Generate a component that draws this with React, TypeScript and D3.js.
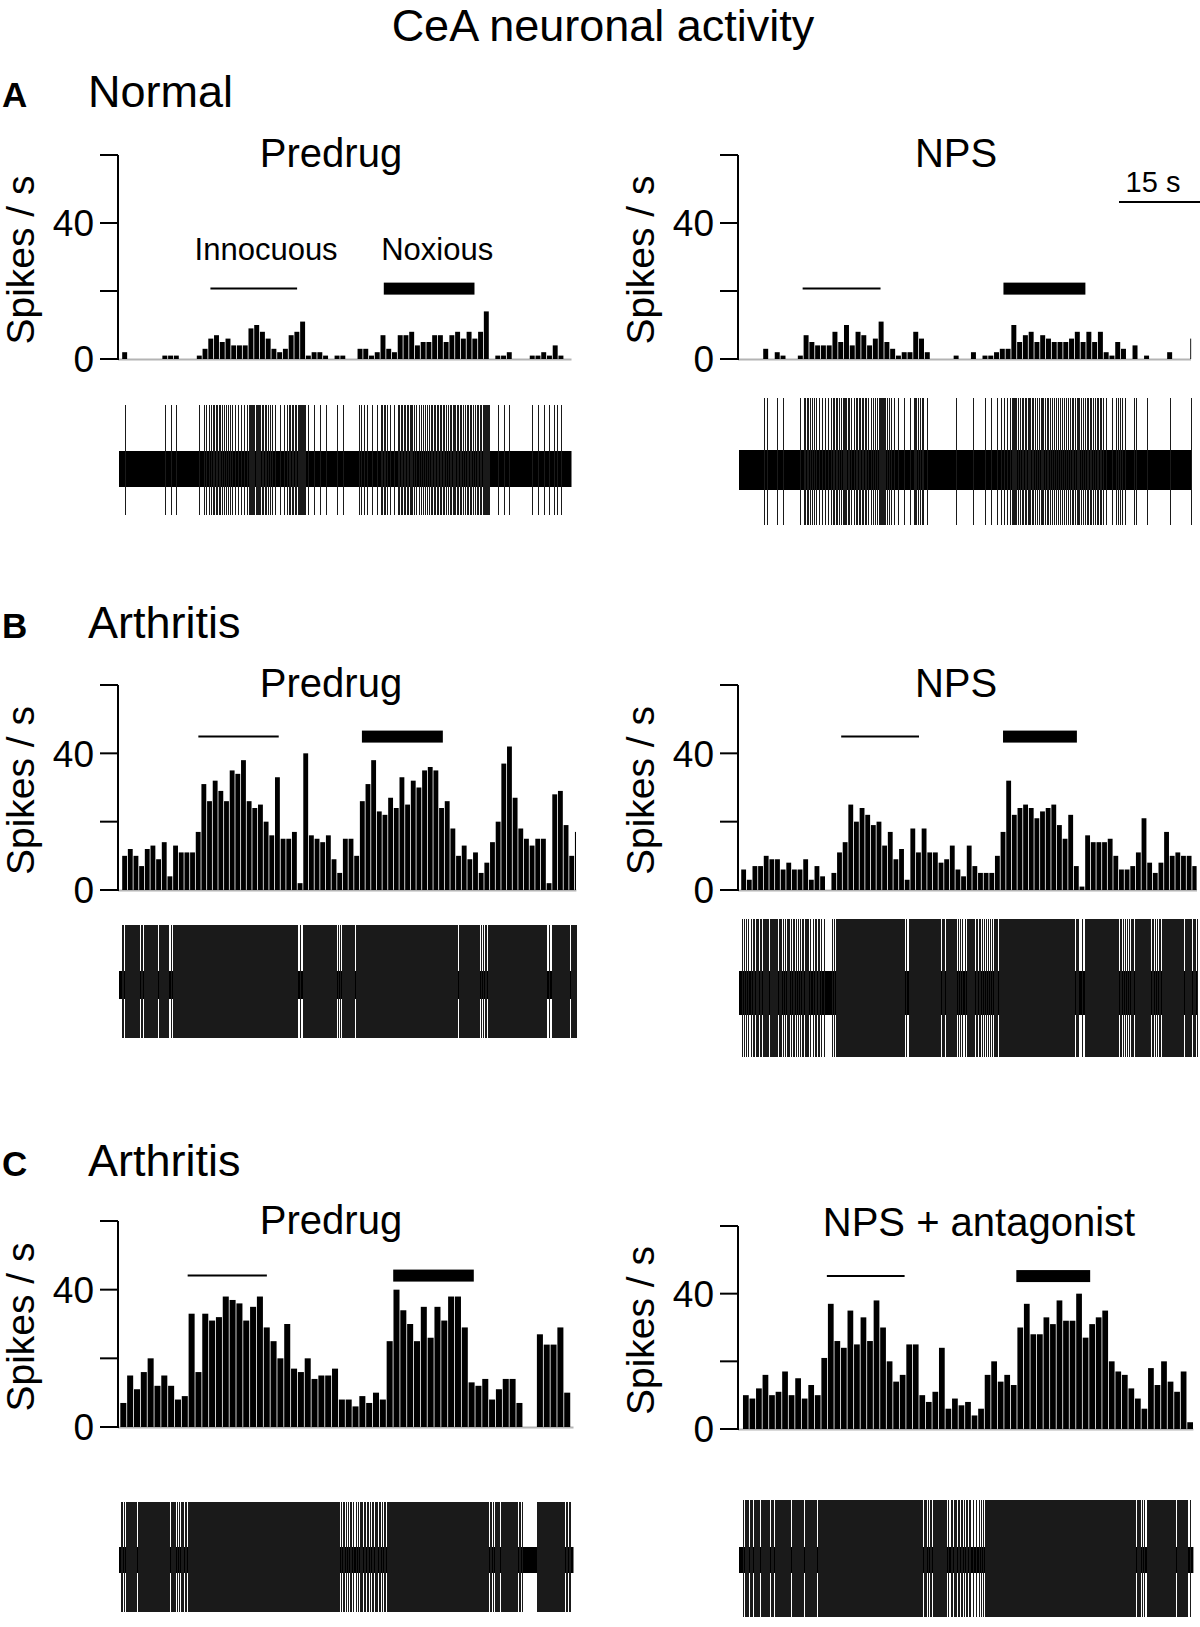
import React from 'react';
import * as d3 from 'd3';

const FONT = "'Liberation Sans', Arial, Helvetica, sans-serif";

// Spikes per bin (left to right)
const normalPredrug = [2,0,0,0,0,0,0,1,1,1, 0,0,0,1,3,6,7,5,6,4, 4,4,9,10,8,6,3,2,3,7, 8,11,1,2,2,1,0,1,1,0, 0,3,3,1,2,7,3,2,7,7, 8,4,5,5,7,7,5,7,8,6, 8,6,8,14,0,1,1,2,0,0, 0,1,1,2,1,4,1];
const normalNps = [3,0,2,1,0,0,1,7,5,4, 4,4,8,5,10,4,8,7,4,6, 11,5,3,1,2,2,8,6,2,0, 0,0,0,1,0,0,2,0,1,1, 2,3,3,10,5,7,8,5,7,6, 5,5,5,6,8,5,8,5,8,2, 1,5,3,0,4,0,1,0,0,0, 2,0,0,0,6];
const arthritisPredrugB = [10,12,10,7,12,13,9,14,4,13, 11,11,11,17,31,26,32,29,26,35, 34,38,26,24,25,20,16,33,15,15, 17,2,40,16,15,14,16,9,5,15, 15,10,26,31,38,23,22,27,24,33, 25,32,30,35,36,35,24,26,18,10, 13,9,11,5,8,14,20,37,42,27, 18,15,13,15,15,2,28,29,19,10, 17];
const arthritisNpsB = [6,3,7,7,10,9,9,6,8,6, 6,9,3,7,4,0,5,11,14,25, 20,24,22,19,20,13,17,9,12,3, 18,11,18,11,11,8,9,13,6,4, 13,7,5,5,5,10,17,32,22,24, 25,24,21,23,24,25,19,15,22,7, 1,16,14,14,14,15,10,6,6,7, 11,21,8,5,8,17,10,11,10,10, 7];
const arthritisPredrugC = [7,15,11,16,20,12,15,12,8,9, 33,16,33,31,32,38,37,36,31,35, 38,29,25,20,30,17,16,20,14,15, 15,17,8,8,6,9,7,10,8,25, 40,34,30,25,35,26,35,31,38,38, 29,13,12,14,8,11,14,14,7,0, 0,27,24,24,29,10];
const arthritisNpsAntagonist = [10,9,12,16,10,11,17,10,15,9, 13,10,21,37,26,24,35,25,33,26, 38,30,20,14,16,25,25,10,8,11, 24,6,9,7,8,4,6,16,20,14, 16,13,30,37,28,28,33,31,38,32, 32,40,27,31,33,35,20,17,16,12, 9,6,18,13,20,14,11,17,2];

// Stimulus windows (in bins from the axis): [start, end]
const innocNormalPredrug = [16.1, 31.2];
const noxNormalPredrug = [46.3, 62.1];
const innocNormalNps = [11.2, 24.7];
const noxNormalNps = [46.0, 60.2];
const innocArthPredrugB = [14.2, 28.4];
const noxArthPredrugB = [43.1, 57.4];
const innocArthNpsB = [18.3, 32.1];
const noxArthNpsB = [47.0, 60.1];
const innocArthPredrugC = [10.2, 21.8];
const noxArthPredrugC = [40.3, 52.1];
const innocArthNpsAnt = [13.6, 25.5];
const noxArthNpsAnt = [42.6, 53.9];

const yTicks = [0, 20, 40, 60];
const yTickLabels = [0, 40];
const yMax = 60;

const sections = [
  { letter: 'A', name: 'Normal', y: 107 },
  { letter: 'B', name: 'Arthritis', y: 638 },
  { letter: 'C', name: 'Arthritis', y: 1176 },
];

interface PanelLayout {
  rates: number[];
  title: string;
  titleX: number;
  titleY: number;
  titleSize: number;
  x0: number; x1: number; y0: number; yTop: number;
  off: number; span: number;
  innoc: number[]; nox: number[]; stimLevel: number;
  cy: number; band: number; up: number; down: number;
}

const panels: PanelLayout[] = [
  { rates: normalPredrug, title: 'Predrug', titleX: 331, titleY: 167, titleSize: 40,
    x0: 118, x1: 571.5, y0: 359, yTop: 155, off: 0.66, span: 79.0,
    innoc: innocNormalPredrug, nox: noxNormalPredrug, stimLevel: 20.7,
    cy: 469, band: 18, up: 64, down: 46 },
  { rates: normalNps, title: 'NPS', titleX: 956, titleY: 167, titleSize: 40,
    x0: 738, x1: 1191, y0: 359, yTop: 155, off: 4.3, span: 78.5,
    innoc: innocNormalNps, nox: noxNormalNps, stimLevel: 20.7,
    cy: 470, band: 20, up: 72, down: 55 },
  { rates: arthritisPredrugB, title: 'Predrug', titleX: 331, titleY: 697, titleSize: 40,
    x0: 118, x1: 576.4, y0: 890, yTop: 685, off: 0.67, span: 81.0,
    innoc: innocArthPredrugB, nox: noxArthPredrugB, stimLevel: 44.9,
    cy: 985, band: 14, up: 60, down: 53 },
  { rates: arthritisNpsB, title: 'NPS', titleX: 956, titleY: 697, titleSize: 40,
    x0: 738, x1: 1197, y0: 890, yTop: 685, off: 0.5, span: 81.4,
    innoc: innocArthNpsB, nox: noxArthNpsB, stimLevel: 44.9,
    cy: 993, band: 22, up: 74, down: 64 },
  { rates: arthritisPredrugC, title: 'Predrug', titleX: 331, titleY: 1234, titleSize: 40,
    x0: 118, x1: 573.5, y0: 1427, yTop: 1221, off: 0.28, span: 66.7,
    innoc: innocArthPredrugC, nox: noxArthPredrugC, stimLevel: 44.1,
    cy: 1560, band: 13, up: 58, down: 52 },
  { rates: arthritisNpsAntagonist, title: 'NPS + antagonist', titleX: 979, titleY: 1236, titleSize: 40,
    x0: 738, x1: 1193.4, y0: 1429, yTop: 1226, off: 0.7, span: 69.7,
    innoc: innocArthNpsAnt, nox: noxArthNpsAnt, stimLevel: 45.2,
    cy: 1560, band: 13, up: 60, down: 57 },
];

function Panel({ p, index }: { p: PanelLayout; index: number }) {
  const x = d3.scaleLinear().domain([0, p.span]).range([p.x0, p.x1]);
  const y = d3.scaleLinear().domain([0, yMax]).range([p.y0, p.yTop]);

  const bars = p.rates.map((v, k) => {
    if (v <= 0) return null;
    const a = Math.max(x(p.off + k), p.x0 + 1);
    const b = Math.min(x(p.off + k + 1), p.x1);
    if (b <= a) return null;
    const w = Math.max(0.9, b - a - 0.8);
    return <rect key={k} x={a + 0.4} y={y(v)} width={w} height={y(0) - y(v)} fill="#000" />;
  });

  // Raw trace: deflections spread through each bin, thinned (one line per two
  // counted spikes) so the display resolution shows gaps like the recording
  let spikes = '';
  p.rates.forEach((v, k) => {
    const n = Math.ceil(v / 2);
    for (let j = 0; j < n; j++) {
      const xx = x(p.off + k + (j + 0.5) / n);
      if (xx < p.x0 + 1 || xx > p.x1) continue;
      const px = Math.round(xx) + 0.5;
      spikes += `M${px},${p.cy - p.up}V${p.cy + p.down}`;
    }
  });

  const midY = (p.y0 + p.yTop) / 2 + 3;
  const stimY = y(p.stimLevel);

  return (
    <g>
      <text x={p.titleX} y={p.titleY} textAnchor="middle" fontSize={p.titleSize} fontFamily={FONT}>{p.title}</text>
      <text transform={`translate(${p.x0 - 84},${midY}) rotate(-90)`} textAnchor="middle" fontSize={39} fontFamily={FONT}>Spikes / s</text>
      {/* baseline */}
      <line x1={p.x0} x2={p.x1} y1={p.y0 + 0.5} y2={p.y0 + 0.5} stroke="#b4b4b4" strokeWidth={2} />
      {bars}
      {/* y axis */}
      <line x1={p.x0} x2={p.x0} y1={p.yTop} y2={p.y0 + 1} stroke="#000" strokeWidth={2} />
      {yTicks.map((t) => (
        <line key={t} x1={p.x0 - 18} x2={p.x0} y1={y(t)} y2={y(t)} stroke="#000" strokeWidth={2} />
      ))}
      {yTickLabels.map((t) => (
        <text key={t} x={p.x0 - 24} y={y(t)} dy="0.36em" textAnchor="end" fontSize={37} fontFamily={FONT}>{t}</text>
      ))}
      {/* stimulus markers */}
      <line x1={x(p.innoc[0])} x2={x(p.innoc[1])} y1={stimY} y2={stimY} stroke="#000" strokeWidth={2} />
      <rect x={x(p.nox[0])} y={stimY - 6} width={x(p.nox[1]) - x(p.nox[0])} height={12} fill="#000" />
      {index === 0 && (
        <g>
          <text x={x(25.8)} y={260} textAnchor="middle" fontSize={31} fontFamily={FONT}>Innocuous</text>
          <text x={x(55.6)} y={260} textAnchor="middle" fontSize={31} fontFamily={FONT}>Noxious</text>
        </g>
      )}
      {/* trace */}
      <rect x={p.x0 + 1} y={p.cy - p.band} width={p.x1 - p.x0 - 1} height={p.band * 2} fill="#000" />
      <path d={spikes} stroke="#1a1a1a" strokeWidth={1} fill="none" shapeRendering="crispEdges" />
    </g>
  );
}

export default function App() {
  return (
    <svg width={1200} height={1627} viewBox="0 0 1200 1627" style={{ position: 'absolute', left: 0, top: 0, background: '#fff' }}>
      <rect width={1200} height={1627} fill="#fff" />
      <text x={603} y={41} textAnchor="middle" fontSize={45} fontFamily={FONT}>CeA neuronal activity</text>
      {sections.map((s) => (
        <g key={s.letter}>
          <text x={2} y={s.y} fontSize={35} fontWeight="bold" fontFamily={FONT}>{s.letter}</text>
          <text x={88} y={s.y} fontSize={45} fontFamily={FONT}>{s.name}</text>
        </g>
      ))}
      {panels.map((p, i) => <Panel key={i} p={p} index={i} />)}
      {/* 15 s scale bar */}
      <text x={1153} y={192} textAnchor="middle" fontSize={29} fontFamily={FONT}>15 s</text>
      <line x1={1119} x2={1200} y1={202} y2={202} stroke="#000" strokeWidth={2} />
    </svg>
  );
}
